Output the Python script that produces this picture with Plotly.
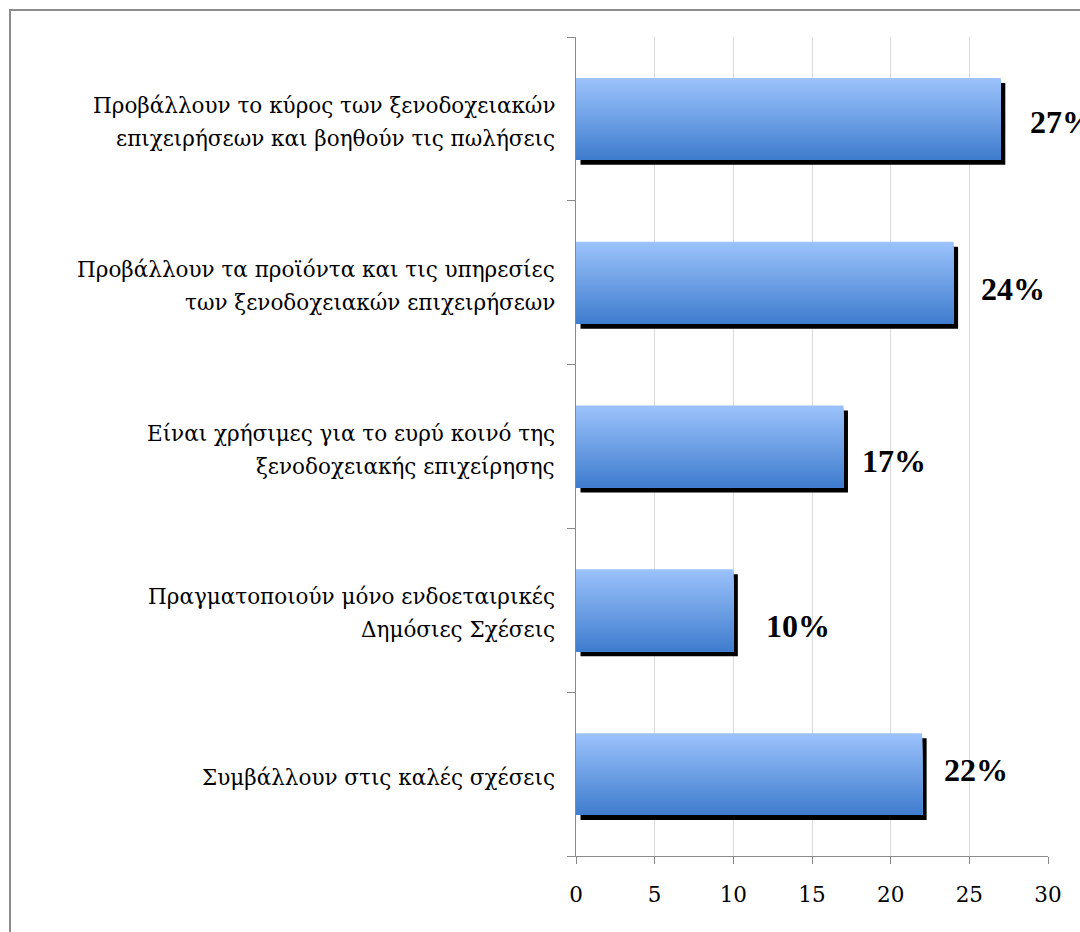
import plotly.graph_objects as go

# Survey responses (percent of respondents)
categories = [
    "Προβάλλουν το κύρος των ξενοδοχειακών<br>επιχειρήσεων και βοηθούν τις πωλήσεις",
    "Προβάλλουν τα προϊόντα και τις υπηρεσίες<br>των ξενοδοχειακών επιχειρήσεων",
    "Είναι χρήσιμες για το ευρύ κοινό της<br>ξενοδοχειακής επιχείρησης",
    "Πραγματοποιούν μόνο ενδοεταιρικές<br>Δημόσιες Σχέσεις",
    "Συμβάλλουν στις καλές σχέσεις",
]
values = [27, 24, 17, 10, 22]
x_ticks = [0, 5, 10, 15, 20, 25, 30]

# label placement tweaks (pixels)
label_dx = [27, 25, 17, 31, 20]
label_dy = [-3, -6, -14, -16, 4]

W, H = 1080, 932
ML, MR, MT, MB = 576, 32, 37, 76
PW, PH = W - ML - MR, H - MT - MB

BAR_W = 0.5
N_SLICES = 41
TOP_RGB = (155, 194, 251)
BOT_RGB = (64, 125, 206)

fig = go.Figure()

# drop shadow behind each bar
fig.add_trace(go.Bar(
    orientation="h", x=values, y=categories,
    base=4.5 * 30 / PW,
    width=BAR_W, offset=-BAR_W / 2 - 5.0 / (PH / len(categories)),
    marker=dict(color="black", line=dict(width=0)),
    hoverinfo="skip", showlegend=False,
))

# vertical gradient: nested bars anchored at the bar bottom, each shorter
# one drawn on top in a darker shade, so there are no gaps between bands
step = BAR_W / N_SLICES
for j in range(N_SLICES):
    k = N_SLICES - 1 - j          # band index of this layer's top edge
    t = k / (N_SLICES - 1)        # 0 at bottom, 1 at top
    r, g, b = (round(BOT_RGB[c] + (TOP_RGB[c] - BOT_RGB[c]) * t) for c in range(3))
    fig.add_trace(go.Bar(
        orientation="h", x=values, y=categories,
        width=(k + 1) * step, offset=-BAR_W / 2,
        marker=dict(color=f"rgb({r},{g},{b})", line=dict(width=0)),
        hoverinfo="skip", showlegend=False,
    ))

annotations = []
# value labels
for cat, v, dx, dy in zip(categories, values, label_dx, label_dy):
    annotations.append(dict(
        x=v, y=cat, xref="x", yref="y", text=f"{v}%",
        xanchor="left", yanchor="middle", xshift=dx, yshift=dy,
        showarrow=False,
        font=dict(family="Liberation Serif", size=32, color="black", weight="bold"),
    ))

# category labels, one annotation per line for wider line spacing
LINE_GAP = 33
for cat in categories:
    lines = cat.split("<br>")
    n = len(lines)
    for k, line in enumerate(lines):
        shift = ((n - 1) / 2 - k) * LINE_GAP - 3
        annotations.append(dict(
            x=0, y=cat, xref="x", yref="y", text=line,
            xanchor="right", yanchor="middle", xshift=-19, yshift=shift,
            showarrow=False, align="center",
            font=dict(family="DejaVu Serif", size=21.5, color="black"),
        ))

fig.update_layout(
    width=W, height=H, autosize=False,
    margin=dict(l=ML, r=MR, t=MT, b=MB),
    paper_bgcolor="white", plot_bgcolor="white",
    barmode="overlay",
    annotations=annotations,
    shapes=[dict(
        type="rect", xref="paper", yref="paper",
        x0=(10 - ML) / PW, x1=(W + 20 - ML) / PW,
        y0=-(MB + 20) / PH, y1=(H - MB - 10) / PH,
        line=dict(color="#8c8c8c", width=2), fillcolor="rgba(0,0,0,0)",
        layer="below",
    )],
    xaxis=dict(
        range=[0, 30], tickvals=x_ticks, ticktext=[str(t) for t in x_ticks],
        showgrid=True, gridcolor="#d9d9d9", gridwidth=1,
        showline=True, linecolor="#8a8a8a", linewidth=1,
        ticks="outside", ticklen=7, tickcolor="#8a8a8a",
        ticklabelstandoff=12,
        tickfont=dict(family="DejaVu Serif", size=21.5, color="black"),
        zeroline=False, fixedrange=True,
    ),
    yaxis=dict(
        type="category", categoryorder="array",
        categoryarray=categories[::-1],
        showticklabels=False, showgrid=False, zeroline=False,
        showline=True, linecolor="#8a8a8a", linewidth=1,
        ticks="outside", ticklen=8, tickcolor="#8a8a8a", tickson="boundaries",
        fixedrange=True,
    ),
)

fig.write_html("out.html", config={"displayModeBar": False})
